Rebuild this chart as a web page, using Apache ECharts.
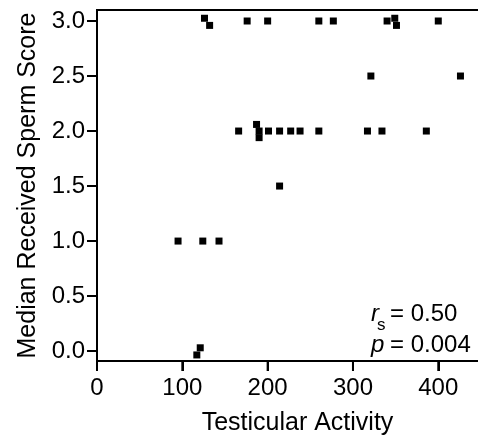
<!DOCTYPE html>
<html>
<head>
<meta charset="utf-8">
<script src="https://cdn.jsdelivr.net/npm/echarts@6/dist/echarts.min.js"></script>
<style>
  html, body { margin: 0; padding: 0; background: #fff; overflow: hidden; }
  #main { width: 510px; height: 441px; }
</style>
</head>
<body>
<div id="main"></div>
<script>
// testicular activity (x) and median received sperm score (y)
var activity = [126, 132, 176, 200, 260, 277, 340, 349, 351, 400,
                321, 426,
                166, 187, 190, 190, 201, 214, 227, 238, 260, 317, 334, 386,
                214,
                95, 124, 143,
                121, 117];
var score = [3.025, 2.96, 3.0, 3.0, 3.0, 3.0, 3.0, 3.025, 2.96, 3.0,
             2.5, 2.5,
             2.0, 2.06, 2.0, 1.94, 2.0, 2.0, 2.0, 2.0, 2.0, 2.0, 2.0, 2.0,
             1.5,
             1.0, 1.0, 1.0,
             0.03, -0.035];
var xTicks = [0, 100, 200, 300, 400];
var yTicks = [0, 0.5, 1.0, 1.5, 2.0, 2.5, 3.0];
var yMin = -0.09;

var points = [];
for (var i = 0; i < activity.length; i++) {
    points.push([activity[i], score[i]]);
}
var xTickData = xTicks.map(function (v) { return [v, yMin]; });

var fnt = 'Liberation Sans, Arial, Helvetica, sans-serif';
var chart = echarts.init(document.getElementById('main'), null, {renderer: 'canvas'});

chart.setOption({
    animation: false,
    backgroundColor: '#fff',
    grid: {
        left: 97, right: 12, top: 10, bottom: 78,
        show: true, borderColor: '#000', borderWidth: 2, backgroundColor: 'transparent'
    },
    xAxis: {
        type: 'value',
        min: 0, max: 470,
        name: 'Testicular Activity',
        nameLocation: 'middle',
        nameGap: 50,
        nameTextStyle: {color: '#000', fontSize: 25, fontFamily: fnt},
        axisLine: {show: true, onZero: false, lineStyle: {color: '#000', width: 2}},
        axisTick: {show: true, length: 10, lineStyle: {color: '#000', width: 2}, customValues: xTicks},
        axisLabel: {color: '#000', fontSize: 24, fontFamily: fnt, margin: 15, customValues: xTicks},
        splitLine: {show: false}
    },
    yAxis: {
        type: 'value',
        min: yMin, max: 3.1,
        name: 'Median Received Sperm Score',
        nameLocation: 'middle',
        nameGap: 50,
        nameTextStyle: {color: '#000', fontSize: 25, fontFamily: fnt},
        axisLine: {show: true, onZero: false, lineStyle: {color: '#000', width: 2}},
        axisTick: {show: true, length: 10, lineStyle: {color: '#000', width: 2}, customValues: yTicks},
        axisLabel: {
            color: '#000', fontSize: 24, fontFamily: fnt, margin: 12, customValues: yTicks,
            formatter: function (v) { return v.toFixed(1); }
        },
        splitLine: {show: false}
    },
    series: [{
        type: 'scatter',
        data: points,
        symbol: 'rect',
        symbolSize: 7,
        itemStyle: {color: '#000', opacity: 1}
    }, {
        // bottom axis tick marks, placed through the x scale
        type: 'custom',
        clip: false,
        silent: true,
        z: 20,
        data: xTickData,
        encode: {x: 0, y: 1},
        renderItem: function (params, api) {
            var p = api.coord([api.value(0), api.value(1)]);
            return {
                type: 'line',
                shape: {x1: p[0], y1: p[1], x2: p[0], y2: p[1] + 10},
                style: {stroke: '#000', lineWidth: 2}
            };
        }
    }],
    graphic: [
        {type: 'text', x: 371, y: 314, style: {text: 'r', font: 'italic 24px ' + fnt, fill: '#000', verticalAlign: 'middle'}},
        {type: 'text', x: 377, y: 325, style: {text: 's', font: '17px ' + fnt, fill: '#000', verticalAlign: 'middle'}},
        {type: 'text', x: 390, y: 314, style: {text: '= 0.50', font: '24px ' + fnt, fill: '#000', verticalAlign: 'middle'}},
        {type: 'text', x: 371, y: 345, style: {text: 'p', font: 'italic 24px ' + fnt, fill: '#000', verticalAlign: 'middle'}},
        {type: 'text', x: 390, y: 345, style: {text: '= 0.004', font: '24px ' + fnt, fill: '#000', verticalAlign: 'middle'}}
    ]
});
</script>
</body>
</html>
